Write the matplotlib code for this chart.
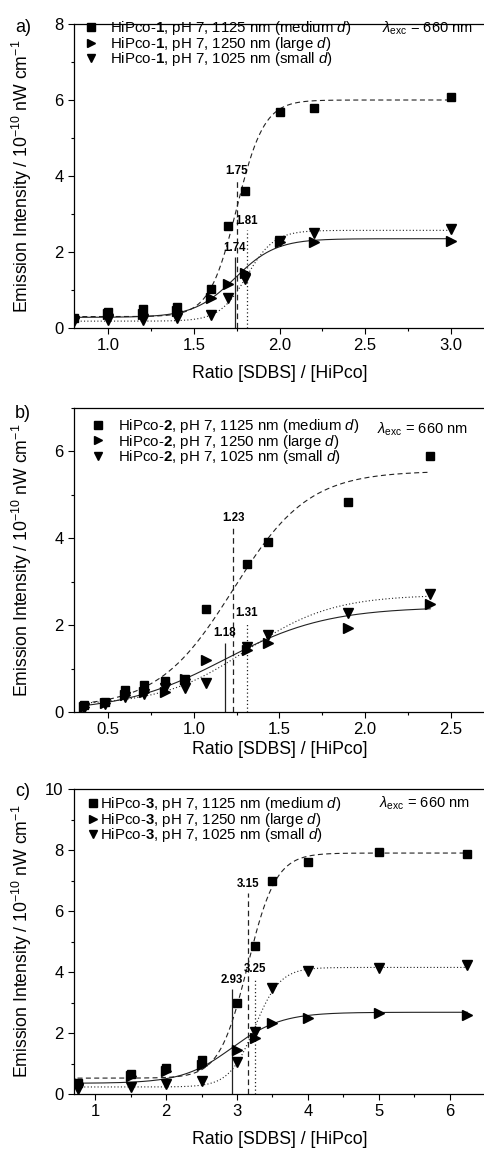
import numpy as np
import matplotlib
matplotlib.use("Agg")
import matplotlib.pyplot as plt
from matplotlib.ticker import AutoMinorLocator, MultipleLocator

plt.rcParams['font.family'] = ['Liberation Sans', 'DejaVu Sans']
plt.rcParams['mathtext.fontset'] = 'custom'
plt.rcParams['mathtext.rm'] = 'Liberation Sans'
plt.rcParams['mathtext.it'] = 'Liberation Sans:italic'
plt.rcParams['mathtext.bf'] = 'Liberation Sans:bold'

# ---- Daten, Panel a) HiPco-1 ----
x_a = [0.8, 1.0, 1.2, 1.4, 1.6, 1.7, 1.8, 2.0, 2.2, 3.0]
med_a = [0.25, 0.43, 0.49, 0.56, 1.02, 2.69, 3.60, 5.68, 5.80, 6.08]
large_a = [0.25, 0.38, 0.36, 0.46, 0.78, 1.15, 1.44, 2.27, 2.27, 2.29]
small_a = [0.18, 0.20, 0.22, 0.25, 0.34, 0.78, 1.30, 2.29, 2.49, 2.60]

# ---- Daten, Panel b) HiPco-2 ----
x_b = [0.36, 0.48, 0.60, 0.71, 0.83, 0.95, 1.07, 1.31, 1.43, 1.90, 2.38]
med_b = [0.16, 0.24, 0.50, 0.62, 0.72, 0.75, 2.38, 3.41, 3.91, 4.83, 5.90]
large_b = [0.12, 0.20, 0.38, 0.45, 0.45, 0.75, 1.20, 1.43, 1.60, 1.93, 2.49]
small_b = [0.10, 0.18, 0.35, 0.42, 0.55, 0.55, 0.66, 1.49, 1.78, 2.28, 2.72]

# ---- Daten, Panel c) HiPco-3 ----
x_c = [0.75, 1.5, 2.0, 2.5, 3.0, 3.25, 3.5, 4.0, 5.0, 6.25]
med_c = [0.35, 0.66, 0.85, 1.10, 2.98, 4.84, 7.00, 7.61, 7.94, 7.87]
large_c = [0.35, 0.60, 0.74, 0.96, 1.44, 1.85, 2.33, 2.49, 2.65, 2.59]
small_c = [0.15, 0.24, 0.32, 0.41, 1.04, 2.02, 3.48, 4.03, 4.14, 4.23]

# Boltzmann-Fitparameter je Serie: (A1, A2, x0, dx), Reihenfolge medium, large, small
fits_a = [(0.30, 6.00, 1.75, 0.08), (0.28, 2.35, 1.74, 0.12), (0.18, 2.57, 1.81, 0.08)]
fits_b = [(0.10, 5.55, 1.23, 0.22), (0.00, 2.42, 1.18, 0.30), (0.15, 2.70, 1.31, 0.25)]
fits_c = [(0.52, 7.90, 3.15, 0.20), (0.35, 2.68, 2.93, 0.35), (0.23, 4.15, 3.25, 0.18)]

# Hoehe der senkrechten Markierungslinien am Wendepunkt
vline_top_a = [3.90, 1.88, 2.57]
vline_top_b = [4.25, 1.60, 2.08]
vline_top_c = [6.60, 3.45, 3.80]

panel_labels = ['a)', 'b)', 'c)']
sample_names = ['1', '2', '3']
xlims = [(0.8, 3.2), (0.3, 2.7), (0.7, 6.5)]
ylims = [(0, 8), (0, 7), (0, 10)]
xmajor = [0.5, 0.5, 1.0]
ymajor = [2, 2, 2]

linestyles = [(0, (4.5, 3)), '-', (0, (1, 2))]
markers = ['s', '>', 'v']
wavelengths = ['1125 nm (medium $d$)', '1250 nm (large $d$)', '1025 nm (small $d$)']


def boltzmann(x, A1, A2, x0, dx):
    return A2 + (A1 - A2) / (1 + np.exp((x - x0) / dx))


fig = plt.figure(figsize=(4.84, 11.49), dpi=100)
H = 1149.0
W = 484.0
# Achsen-Positionen in Pixeln (oben, unten)
axes_px = [(24, 328), (408, 712), (789, 1094)]
legend_px = [(83.5, 19, 0.77), (90.5, 417, 0.83), (85.5, 795, -0.03)]
lambda_px = [(473, 28), (468, 429), (470, 803)]
label_px = [27, 413, 792]
xlabelpads = [8.3, 2.9, 8.3]

all_data = [
    (x_a, [med_a, large_a, small_a], fits_a, vline_top_a),
    (x_b, [med_b, large_b, small_b], fits_b, vline_top_b),
    (x_c, [med_c, large_c, small_c], fits_c, vline_top_c),
]

for i, (xs, ys_list, fits, vtops) in enumerate(all_data):
    top, bot = axes_px[i]
    ax = fig.add_axes([74 / W, (H - bot) / H, (485 - 74) / W, (bot - top) / H])

    # Fitkurven
    xx = np.linspace(min(xs), max(xs), 300)
    for (A1, A2, x0, dx), ls in zip(fits, linestyles):
        ax.plot(xx, boltzmann(xx, A1, A2, x0, dx), color='#222222', lw=0.8, ls=ls)

    # senkrechte Linien + Beschriftung
    for (A1, A2, x0, dx), ls, vt in zip(fits, linestyles, vtops):
        ax.vlines(x0, 0, vt, colors='#222222', lw=0.9, linestyles=[ls])
        ax.text(x0, vt + 0.08 * (ylims[i][1] / 8), f'{x0:.2f}', ha='center', va='bottom',
                fontsize=8.3, fontweight='bold')

    # Messpunkte
    for ys, m, wl in zip(ys_list, markers, wavelengths):
        ax.plot(xs, ys, ls='none', marker=m, color='black', ms=5.8 if m == 's' else 7,
                zorder=5, label=f'HiPco-$\\mathbf{{{sample_names[i]}}}$, pH 7, {wl}')

    ax.set_xlim(*xlims[i])
    ax.set_ylim(*ylims[i])
    ax.xaxis.set_major_locator(MultipleLocator(xmajor[i]))
    ax.yaxis.set_major_locator(MultipleLocator(ymajor[i]))
    ax.xaxis.set_minor_locator(AutoMinorLocator(2))
    ax.yaxis.set_minor_locator(AutoMinorLocator(2))
    if i < 2:
        ax.xaxis.set_major_formatter(plt.FormatStrFormatter('%.1f'))
    ax.tick_params(which='major', direction='out', length=4, width=0.8, labelsize=12)
    ax.tick_params(which='minor', direction='out', length=2.5, width=0.8)
    for sp in ax.spines.values():
        sp.set_linewidth(0.9)
    ax.spines['right'].set_visible(False)

    ax.set_xlabel('Ratio [SDBS] / [HiPco]', fontsize=12.7, labelpad=xlabelpads[i])
    ax.set_ylabel('Emission Intensity / 10$^{-10}$ nW cm$^{-1}$', fontsize=12.7)
    ax.yaxis.set_label_coords((34 - 74) / 411, 0.5)

    # Legende
    lx, ly, pad = legend_px[i]
    ax.legend(loc='upper left', bbox_to_anchor=(lx / W, 1 - ly / H),
              bbox_transform=fig.transFigure, frameon=False, fontsize=10.8,
              handlelength=1.0, handletextpad=pad, borderpad=0, borderaxespad=0,
              labelspacing=-0.15, numpoints=1, markerscale=0.9)

    rx, ry = lambda_px[i]
    fig.text(rx / W, 1 - ry / H, '$\\lambda_{\\mathrm{exc}}$ = 660 nm', ha='right',
             va='center', fontsize=10.5)

    fig.text(15 / W, 1 - label_px[i] / H, panel_labels[i], ha='left', va='center',
             fontsize=13)

fig.savefig('out.png', dpi=100)
